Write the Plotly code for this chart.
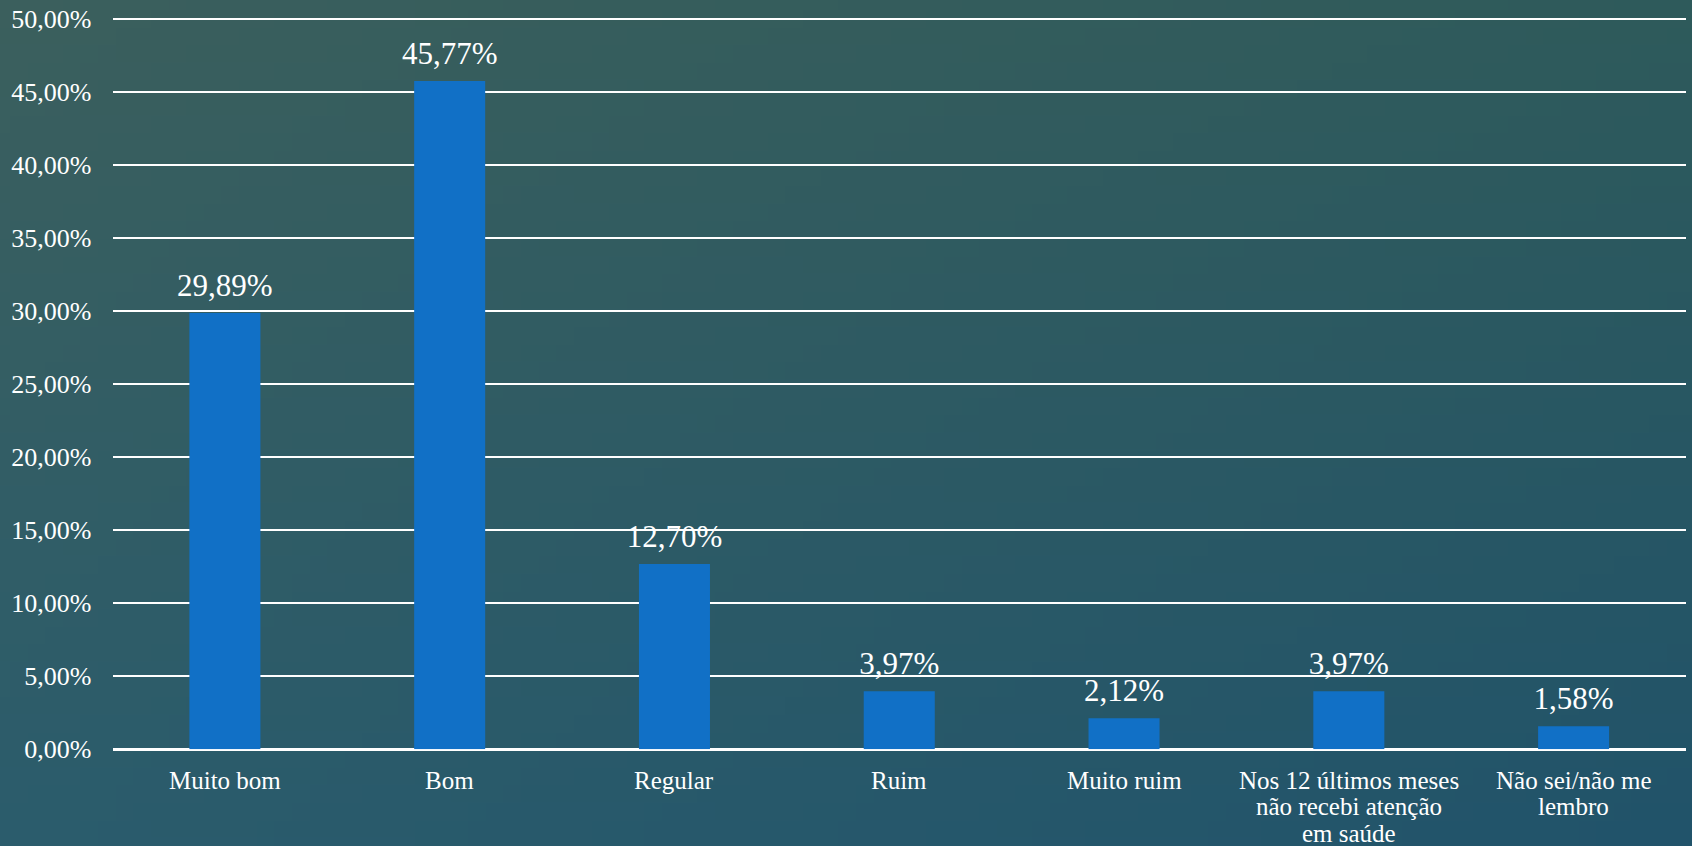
import base64
import struct
import zlib

import plotly.graph_objects as go

# Survey answers and their shares (%)
categories = [
    "Muito bom",
    "Bom",
    "Regular",
    "Ruim",
    "Muito ruim",
    "Nos 12 últimos meses<br>não recebi atenção<br>em saúde",
    "Não sei/não me<br>lembro",
]
shares = [29.89, 45.77, 12.70, 3.97, 2.12, 3.97, 1.58]
y_ticks = [0, 5, 10, 15, 20, 25, 30, 35, 40, 45, 50]
y_tick_labels = [
    "0,00%", "5,00%", "10,00%", "15,00%", "20,00%", "25,00%",
    "30,00%", "35,00%", "40,00%", "45,00%", "50,00%",
]

W, H = 1692, 846
FONT = "Liberation Serif"
TEXT = "#ffffff"
BAR = "#1170C6"

# Corner colours of the slide background (top-left, top-right, bottom-left, bottom-right)
TL, TR, BL, BR = (59, 95, 93), (46, 90, 91), (43, 92, 108), (33, 83, 106)


def gradient_png(w, h):
    rows = []
    for j in range(h):
        v = j / (h - 1)
        row = bytearray([0])
        for i in range(w):
            u = i / (w - 1)
            px = []
            for c in range(3):
                top = TL[c] * (1 - u) + TR[c] * u
                bot = BL[c] * (1 - u) + BR[c] * u
                px.append(int(round(top * (1 - v) + bot * v)))
            row.extend(px)
        rows.append(bytes(row))
    raw = zlib.compress(b"".join(rows), 9)

    def chunk(tag, data):
        c = struct.pack(">I", len(data)) + tag + data
        return c + struct.pack(">I", zlib.crc32(tag + data) & 0xFFFFFFFF)

    png = b"\x89PNG\r\n\x1a\n"
    png += chunk(b"IHDR", struct.pack(">IIBBBBB", w, h, 8, 2, 0, 0, 0))
    png += chunk(b"IDAT", raw)
    png += chunk(b"IEND", b"")
    return "data:image/png;base64," + base64.b64encode(png).decode()


fig = go.Figure()
fig.add_bar(
    x=categories,
    y=shares,
    marker=dict(color=BAR, line=dict(width=0)),
    hoverinfo="x+y",
)
# Value labels sit above each bar; the invisible marker sets their gap
fig.add_scatter(
    x=categories,
    y=shares,
    mode="markers+text",
    marker=dict(size=13, opacity=0),
    texttemplate="%{y:.2f}%",
    textposition="top center",
    textfont=dict(family=FONT, size=31, color=TEXT),
    cliponaxis=False,
    hoverinfo="skip",
)

# Category labels, one line at a time for tighter line spacing
annotations = []
for cat in categories:
    for k, line in enumerate(cat.split("<br>")):
        annotations.append(
            dict(
                x=cat,
                y=0,
                xref="x",
                yref="y",
                text=line,
                showarrow=False,
                yanchor="middle",
                yshift=-31 - 26.5 * k,
                font=dict(family=FONT, size=25, color=TEXT),
            )
        )

# 14.6 px per percentage point; the range runs a little past 50 so the top gridline is kept
Y_MAX = 50.3
y_top_px = 749.3 - Y_MAX * 14.6

fig.update_layout(
    width=W,
    height=H,
    margin=dict(l=0, r=0, t=0, b=0, autoexpand=False),
    paper_bgcolor="rgba(0,0,0,0)",
    plot_bgcolor="rgba(0,0,0,0)",
    separators=",.",
    showlegend=False,
    bargap=0.684,
    images=[
        dict(
            source=gradient_png(96, 48),
            xref="paper",
            yref="paper",
            x=0,
            y=1,
            sizex=1,
            sizey=1,
            xanchor="left",
            yanchor="top",
            sizing="stretch",
            layer="below",
        )
    ],
    annotations=annotations,
    xaxis=dict(
        domain=[112.5 / W, 1686 / W],
        automargin=False,
        showticklabels=False,
        showgrid=False,
        zeroline=False,
        showline=False,
        ticks="",
    ),
    yaxis=dict(
        domain=[(H - 749.3) / H, (H - y_top_px) / H],
        automargin=False,
        range=[0, Y_MAX],
        tickmode="array",
        tickvals=y_ticks,
        ticktext=y_tick_labels,
        tickfont=dict(family=FONT, size=26, color=TEXT),
        ticks="",
        ticklabelstandoff=20,
        showgrid=True,
        gridcolor="#ffffff",
        gridwidth=2,
        zeroline=True,
        zerolinecolor="#ffffff",
        zerolinewidth=2.5,
        showline=False,
    ),
)

fig.write_html("out.html")
